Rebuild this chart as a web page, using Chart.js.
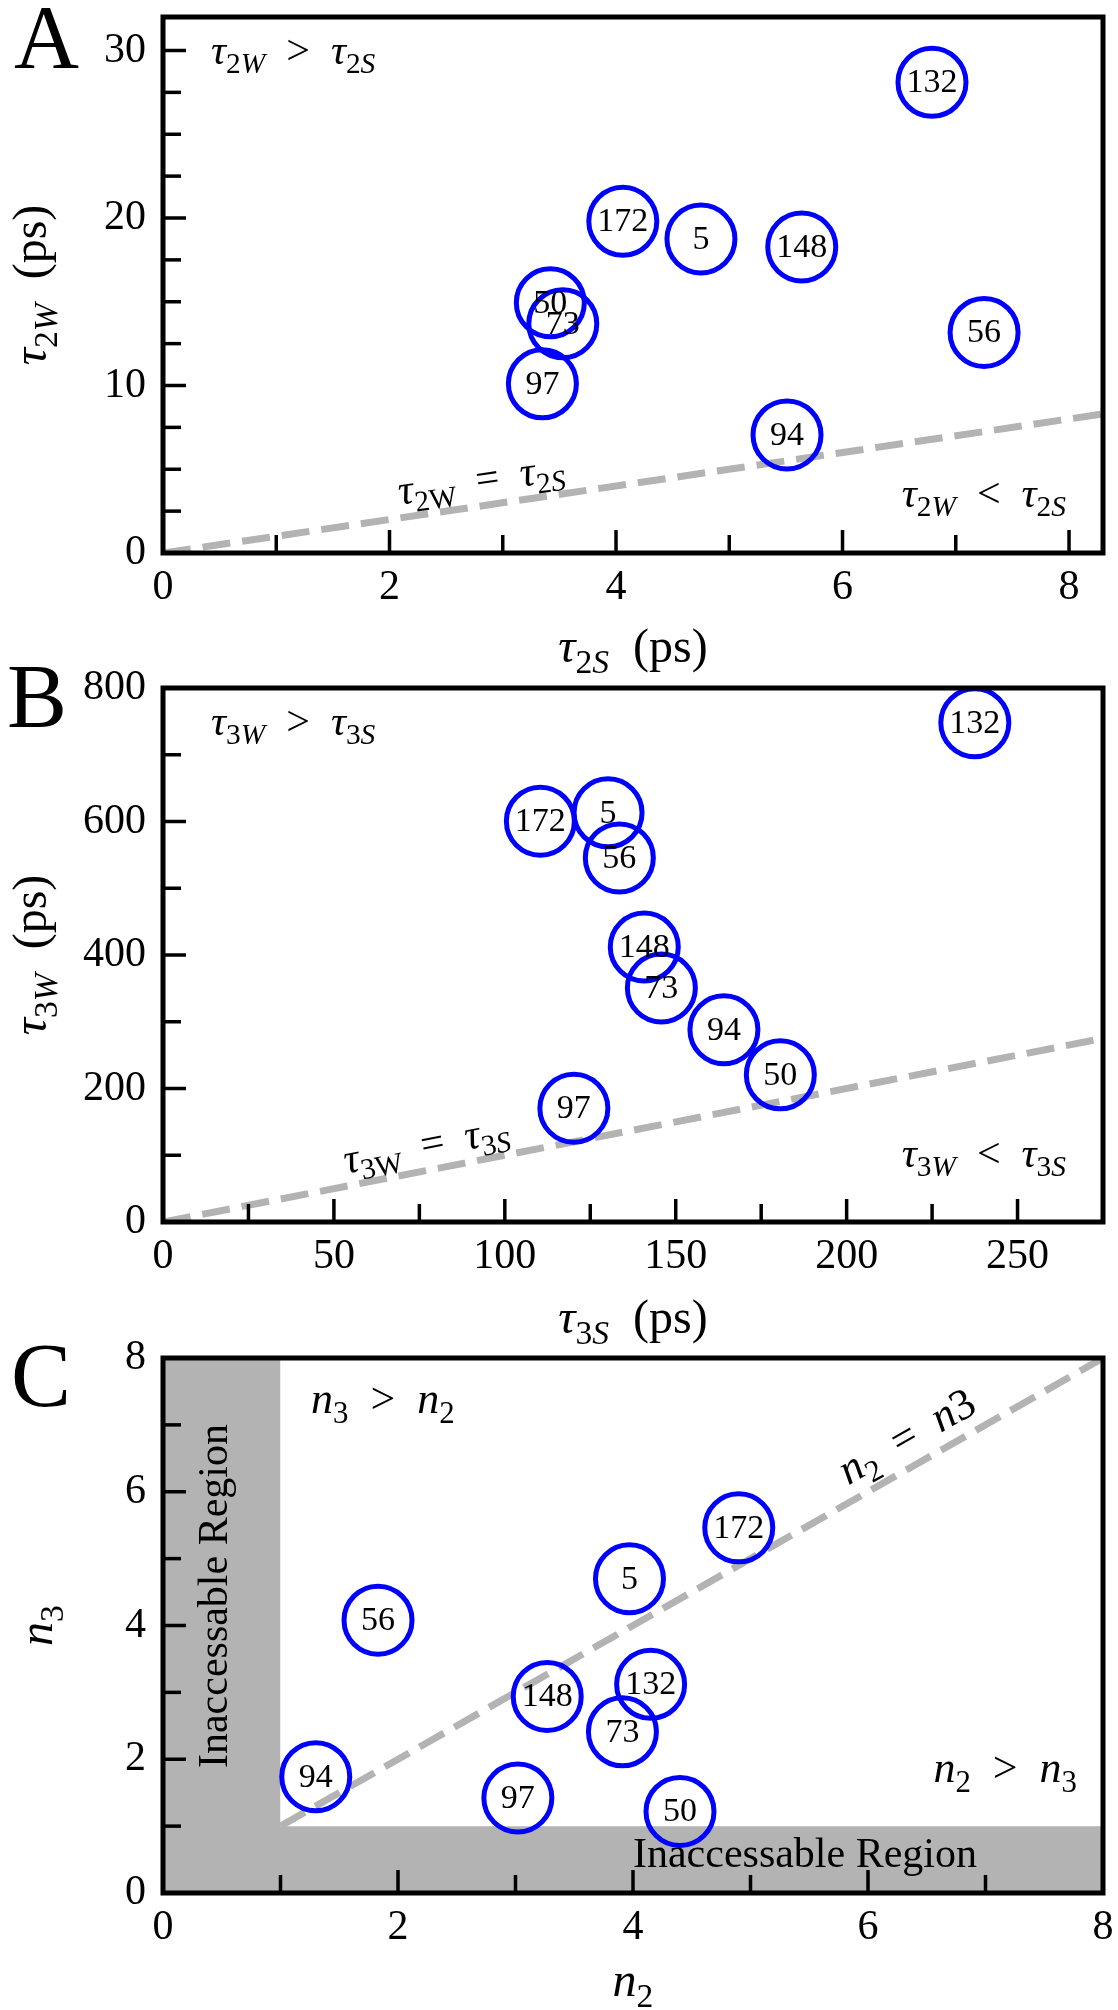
<!DOCTYPE html>
<html><head><meta charset="utf-8">
<script src="https://cdn.jsdelivr.net/npm/chart.js@4.4.1/dist/chart.umd.min.js"></script>
<style>
html,body{margin:0;padding:0;background:#fff;}
body{width:1118px;height:2010px;position:relative;overflow:hidden;}
canvas{position:absolute;left:0;}
</style></head><body>
<canvas id="cA" width="1118" height="680" style="top:0px"></canvas>
<canvas id="cB" width="1118" height="710" style="top:640px"></canvas>
<canvas id="cC" width="1118" height="700" style="top:1310px"></canvas>
<script>
// ---------------- DATA ----------------
// Panel A : tau2S (x) vs tau2W (y)
const labelsA = ['132','172','5','148','56','50','73','97','94'];
const tau2S   = [6.79, 4.06, 4.75, 5.64, 7.25, 3.42, 3.53, 3.35, 5.51];
const tau2W   = [28.1, 19.8, 18.75, 18.27, 13.17, 14.94, 13.69, 10.10, 7.05];
const xTicksA = [0, 2, 4, 6, 8];
const xMinorA = [1, 3, 5, 7];
const yTicksA = [0, 10, 20, 30];
const yMinorA = [2.5, 5, 7.5, 12.5, 15, 17.5, 22.5, 25, 27.5];
const diagA   = [0, 8.3];

// Panel B : tau3S (x) vs tau3W (y)
const labelsB = ['132','172','5','56','148','73','94','50','97'];
const tau3S   = [237.5, 110.4, 130.2, 133.5, 140.8, 145.8, 164.1, 180.6, 120.2];
const tau3W   = [748, 600.5, 613, 545.5, 412, 350.5, 288, 220.5, 170.5];
const xTicksB = [0, 50, 100, 150, 200, 250];
const xMinorB = [25, 75, 125, 175, 225];
const yTicksB = [0, 200, 400, 600, 800];
const yMinorB = [100, 300, 500, 700];
const diagB   = [0, 275];

// Panel C : n2 (x) vs n3 (y)
const labelsC = ['172','5','56','132','148','73','94','97','50'];
const n2vals  = [4.90, 3.97, 1.83, 4.15, 3.27, 3.91, 1.30, 3.02, 4.40];
const n3vals  = [5.46, 4.70, 4.08, 3.12, 2.94, 2.41, 1.74, 1.42, 1.22];
const xTicksC = [0, 2, 4, 6, 8];
const xMinorC = [1, 3, 5, 7];
const yTicksC = [0, 2, 4, 6, 8];
const yMinorC = [1, 3, 5, 7];
const diagC   = [1, 8];
const bandVert = [[0, 8], [1, 8]];   // inaccessible region n2 < 1
const bandHorz = [[0, 1], [8, 1]];   // inaccessible region n3 < 1

// ---------------- HELPERS ----------------
const FAM = '"Liberation Serif", "Times New Roman", serif';
function fontFor(k, size) {
  const sub = (k === 'I' || k === 'R');
  const s = sub ? size * 0.7 : size;
  const it = (k === 'i' || k === 'I') ? 'italic ' : '';
  return it + s.toFixed(1) + 'px ' + FAM;
}
function drawRich(ctx, segs, x, y, size, opts) {
  opts = opts || {};
  ctx.save();
  ctx.translate(x, y);
  if (opts.angle) ctx.rotate(opts.angle);
  let w = 0;
  const ws = segs.map(([t, k]) => { ctx.font = fontFor(k, size); const m = ctx.measureText(t).width; w += m; return m; });
  let cx = opts.align === 'center' ? -w / 2 : (opts.align === 'right' ? -w : 0);
  const dy = opts.middle ? size * 0.3 : 0;
  ctx.textBaseline = 'alphabetic';
  ctx.textAlign = 'left';
  ctx.fillStyle = '#000';
  segs.forEach(([t, k], i) => {
    ctx.font = fontFor(k, size);
    const off = (k === 'I' || k === 'R') ? size * 0.22 : 0;
    ctx.fillText(t, cx, dy + off);
    cx += ws[i];
  });
  ctx.restore();
}
const pts = (xs, ys) => xs.map((x, i) => ({x: x, y: ys[i]}));

const decoPlugin = {
  id: 'deco',
  afterDatasetsDraw(chart) {
    const cfg = chart.options.plugins.deco;
    const ctx = chart.ctx, ca = chart.chartArea;
    const xs = chart.scales.x, ys = chart.scales.y;
    ctx.save();
    // ticks (inward)
    ctx.strokeStyle = '#000';
    ctx.lineWidth = 3.5;
    const tick = (v, len, axis) => {
      ctx.beginPath();
      if (axis === 'x') { const p = xs.getPixelForValue(v); ctx.moveTo(p, ca.bottom); ctx.lineTo(p, ca.bottom - len); }
      else { const p = ys.getPixelForValue(v); ctx.moveTo(ca.left, p); ctx.lineTo(ca.left + len, p); }
      ctx.stroke();
    };
    cfg.xMajor.forEach(v => tick(v, 23, 'x'));
    cfg.xMinor.forEach(v => tick(v, 18, 'x'));
    cfg.yMajor.forEach(v => tick(v, 23, 'y'));
    cfg.yMinor.forEach(v => tick(v, 18, 'y'));
    // frame
    ctx.lineWidth = 5;
    ctx.strokeRect(ca.left, ca.top, ca.right - ca.left, ca.bottom - ca.top);
    // region texts
    (cfg.texts || []).forEach(t => {
      let angle = t.angle || 0;
      if (t.alongDiag) {
        const d = cfg.diag;
        angle = Math.atan2(ys.getPixelForValue(d[1]) - ys.getPixelForValue(d[0]),
                           xs.getPixelForValue(d[1]) - xs.getPixelForValue(d[0]));
      }
      drawRich(ctx, t.segs, t.x, t.y, t.size, {align: t.align, angle: angle, middle: t.middle});
    });
    // circle labels
    const meta = chart.getDatasetMeta(0);
    ctx.fillStyle = '#000';
    ctx.font = '34px ' + FAM;
    ctx.textAlign = 'center';
    ctx.textBaseline = 'middle';
    meta.data.forEach((el, i) => ctx.fillText(cfg.ids[i], el.x, el.y + 1));
    // axis titles
    const cxm = (ca.left + ca.right) / 2;
    drawRich(ctx, cfg.xTitle, cxm, cfg.xTitleY, 48, {align: 'center'});
    drawRich(ctx, cfg.yTitle, cfg.yTitleX, (ca.top + ca.bottom) / 2, 48, {align: 'center', angle: -Math.PI / 2, middle: true});
    // panel letter
    ctx.font = '90px ' + FAM;
    ctx.textAlign = 'left';
    ctx.textBaseline = 'alphabetic';
    ctx.fillText(cfg.letter[0], cfg.letter[1], cfg.letter[2]);
    ctx.restore();
  }
};

function makeChart(id, c) {
  const datasets = [
    { type: 'scatter', data: pts(c.xs, c.ys), pointRadius: 34, pointHoverRadius: 34,
      pointBorderWidth: 5, pointBorderColor: '#0000ff', pointBackgroundColor: 'rgba(0,0,0,0)',
      order: 0, clip: false },
    { type: 'line', data: pts(c.diag, c.diag), borderColor: '#b3b3b3', borderWidth: 7,
      borderDash: [28, 12], pointRadius: 0, fill: false, order: 1, tension: 0 }
  ];
  (c.bands || []).forEach(b => datasets.push({
    type: 'line', data: b.map(p => ({x: p[0], y: p[1]})), borderWidth: 0, borderColor: 'rgba(0,0,0,0)',
    backgroundColor: '#b3b3b3', fill: 'origin', pointRadius: 0, order: 2, tension: 0
  }));
  const tickFont = {family: FAM, size: 42};
  return new Chart(document.getElementById(id), {
    type: 'scatter',
    data: { datasets: datasets },
    options: {
      responsive: false, animation: false, devicePixelRatio: 1, events: [],
      layout: { autoPadding: false, padding: { top: c.padTop, right: 15, left: 0, bottom: 0 } },
      plugins: {
        legend: {display: false}, tooltip: {enabled: false},
        deco: c.deco
      },
      scales: {
        x: { type: 'linear', position: 'bottom', min: c.xMin, max: c.xMax,
             afterBuildTicks: s => { s.ticks = c.deco.xMajor.map(v => ({value: v})); },
             afterFit: s => { s.height = c.xH; s.paddingLeft = 0; s.paddingRight = 0; },
             grid: {display: false, drawTicks: false}, border: {display: false},
             ticks: {font: tickFont, color: '#000', padding: 10, maxRotation: 0, minRotation: 0, autoSkip: false,
                     callback: v => String(v)} },
        y: { type: 'linear', position: 'left', min: c.yMin, max: c.yMax,
             afterBuildTicks: s => { s.ticks = c.deco.yMajor.map(v => ({value: v})); },
             afterFit: s => { s.width = 163; s.paddingTop = 0; s.paddingBottom = 0; },
             grid: {display: false, drawTicks: false}, border: {display: false},
             ticks: {font: tickFont, color: '#000', padding: 17, autoSkip: false,
                     callback: v => String(v)} }
      }
    },
    plugins: [decoPlugin]
  });
}

// Panel A
makeChart('cA', {
  xs: tau2S, ys: tau2W, diag: diagA, xMin: 0, xMax: 8.3, yMin: 0, yMax: 32, padTop: 17, xH: 127,
  deco: {
    ids: labelsA, diag: diagA, xMajor: xTicksA, xMinor: xMinorA, yMajor: yTicksA, yMinor: yMinorA,
    letter: ['A', 14, 68], xTitleY: 662, yTitleX: 32,
    xTitle: [['τ','i'],['2','R'],['S','I'],['  (ps)','r']],
    yTitle: [['τ','i'],['2','R'],['W','I'],['  (ps)','r']],
    texts: [
      {segs: [['τ','i'],['2','R'],['W','I'],['  >  ','r'],['τ','i'],['2','R'],['S','I']], x: 211, y: 64, size: 42, align: 'left'},
      {segs: [['τ','i'],['2','R'],['W','I'],['  <  ','r'],['τ','i'],['2','R'],['S','I']], x: 1066, y: 507, size: 42, align: 'right'},
      {segs: [['τ','i'],['2W','R'],['  =  ','r'],['τ','i'],['2','R'],['S','I']], x: 481, y: 480, size: 42, align: 'center', middle: true, alongDiag: true}
    ]
  }
});

// Panel B
makeChart('cB', {
  xs: tau3S, ys: tau3W, diag: diagB, xMin: 0, xMax: 275, yMin: 0, yMax: 800, padTop: 48, xH: 128,
  deco: {
    ids: labelsB, diag: diagB, xMajor: xTicksB, xMinor: xMinorB, yMajor: yTicksB, yMinor: yMinorB,
    letter: ['B', 7, 87], xTitleY: 693, yTitleX: 32,
    xTitle: [['τ','i'],['3','R'],['S','I'],['  (ps)','r']],
    yTitle: [['τ','i'],['3','R'],['W','I'],['  (ps)','r']],
    texts: [
      {segs: [['τ','i'],['3','R'],['W','I'],['  >  ','r'],['τ','i'],['3','R'],['S','I']], x: 211, y: 95, size: 42, align: 'left'},
      {segs: [['τ','i'],['3','R'],['W','I'],['  <  ','r'],['τ','i'],['3','R'],['S','I']], x: 1066, y: 527, size: 42, align: 'right'},
      {segs: [['τ','i'],['3W','R'],['  =  ','r'],['τ','i'],['3','R'],['S','I']], x: 426, y: 505, size: 42, align: 'center', middle: true, alongDiag: true}
    ]
  }
});

// Panel C
makeChart('cC', {
  xs: n2vals, ys: n3vals, diag: diagC, bands: [bandVert, bandHorz],
  xMin: 0, xMax: 8, yMin: 0, yMax: 8, padTop: 48, xH: 117,
  deco: {
    ids: labelsC, diag: diagC, xMajor: xTicksC, xMinor: xMinorC, yMajor: yTicksC, yMinor: yMinorC,
    letter: ['C', 11, 96], xTitleY: 686, yTitleX: 38,
    xTitle: [['n','i'],['2','R']],
    yTitle: [['n','i'],['3','R']],
    texts: [
      {segs: [['n','i'],['3','R'],['  >  ','r'],['n','i'],['2','R']], x: 311, y: 103, size: 44, align: 'left'},
      {segs: [['n','i'],['2','R'],['  >  ','r'],['n','i'],['3','R']], x: 1077, y: 472, size: 44, align: 'right'},
      {segs: [['n','i'],['2','R'],['  =  ','r'],['n','i'],['3','r']], x: 907, y: 127, size: 44, align: 'center', middle: true, alongDiag: true},
      {segs: [['Inaccessable Region','r']], x: 805, y: 557, size: 42, align: 'center'},
      {segs: [['Inaccessable Region','r']], x: 227, y: 286, size: 42, align: 'center', angle: -Math.PI / 2}
    ]
  }
});
</script>
</body></html>
